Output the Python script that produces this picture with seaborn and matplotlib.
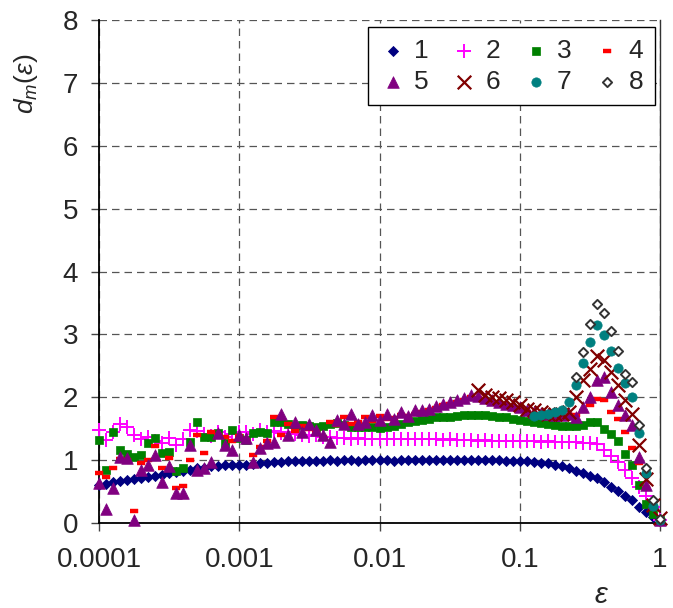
import numpy as np
import pandas as pd
import matplotlib
matplotlib.use("Agg")
import matplotlib.pyplot as plt
import seaborn as sns
from matplotlib.ticker import FixedLocator, FixedFormatter, NullLocator

# epsilon sampling grid (20 points per decade, 1e-4 .. 1)
eps = np.logspace(-4, 0, 81)

s1 = [0.60, 0.62, 0.65, 0.67, 0.68, 0.70, 0.71, 0.73, 0.75, 0.77,
      0.79, 0.81, 0.83, 0.85, 0.87, 0.88, 0.90, 0.91, 0.92, 0.92,
      0.93, 0.93, 0.94, 0.95, 0.96, 0.97, 0.97, 0.98, 0.98, 0.99,
      0.98, 0.99, 0.99, 1.00, 0.99, 1.00, 1.00, 0.99, 1.00, 1.00,
      1.00, 1.00, 0.99, 1.00, 1.00, 1.00, 1.00, 1.00, 1.00, 1.00,
      1.00, 1.00, 1.00, 1.00, 1.00, 1.00, 1.00, 1.00, 0.99,
      0.99, 0.985, 0.98, 0.97, 0.96, 0.95, 0.93, 0.90, 0.87, 0.83, 0.79,
      0.75, 0.71, 0.65, 0.58, 0.51, 0.43, 0.36, 0.25, 0.17, 0.10, 0.04]

s2 = [1.48, 1.32, 1.45, 1.58, 1.53, 1.40, 1.33, 1.36, 1.31, 1.27,
      1.35, 1.24, 1.33, 1.48, 1.46, 1.42, 1.39, 1.44, 1.37, 1.42,
      1.45, 1.45, 1.42, 1.48, 1.44, 1.46, 1.43, 1.45, 1.42, 1.40,
      1.38, 1.40, 1.36, 1.36, 1.35, 1.35, 1.34, 1.35, 1.34, 1.34,
      1.34, 1.34, 1.34, 1.33, 1.33, 1.34, 1.33, 1.33, 1.33, 1.32,
      1.33, 1.32, 1.32, 1.32, 1.31, 1.32, 1.31, 1.31, 1.31, 1.30,
      1.30, 1.30, 1.30, 1.29, 1.30, 1.29, 1.29, 1.29, 1.29, 1.28,
      1.28, 1.25, 1.16, 1.07, 0.97, 0.84, 0.72, 0.57, 0.43, 0.25, 0.05]

s3 = [1.32, 0.84, 1.45, 1.16, 1.10, 1.05, 1.08, 1.27, 1.35, 1.11,
      1.13, 0.82, 0.87, 1.29, 1.61, 1.37, 1.37, 1.43, 1.27, 1.48,
      1.35, 1.32, 1.43, 1.45, 1.43, 1.61, 1.60, 1.58, 1.53, 1.56,
      1.55, 1.53, 1.55, 1.57, 1.59, 1.56, 1.53, 1.53, 1.53, 1.52,
      1.51, 1.52, 1.55, 1.58, 1.60, 1.62, 1.64, 1.66, 1.68, 1.69,
      1.69, 1.70, 1.71, 1.71, 1.71, 1.71, 1.70, 1.69, 1.68, 1.66,
      1.64, 1.62, 1.60, 1.59, 1.57, 1.56, 1.55, 1.54, 1.54, 1.56,
      1.60, 1.60, 1.50, 1.42, 1.30, 1.10, 0.92, 0.60, 0.30, 0.15, 0.05]

s4 = [0.79, 0.73, 0.87, 1.02, 1.00, 0.19, 0.95, 1.00, 1.22, 0.87,
      1.04, 0.55, 0.59, 1.00, 1.40, 1.12, 1.45, 1.40, 1.37, 1.30,
      1.38, 1.32, 1.08, 1.21, 1.30, 1.69, 1.40, 1.58, 1.46, 1.55,
      1.49, 1.44, 1.36, 1.60, 1.56, 1.68, 1.57, 1.60, 1.68, 1.63,
      1.70, 1.66, 1.67, 1.71, 1.70, 1.74, 1.77, 1.79, 1.83, 1.87,
      1.90, 1.93, 1.96, 2.00, 1.99, 1.96, 1.92, 1.90, 1.87, 1.84,
      1.81, 1.77, 1.74, 1.72, 1.70, 1.69, 1.69, 1.71, 1.72, 1.78,
      1.88, 1.97, 1.96, 1.77, 1.66, 1.45, 1.20, 0.95, 0.55, 0.25, 0.05]

s5 = [0.63, 0.23, 0.55, 1.05, 1.03, 0.05, 0.84, 0.92, 1.08, 0.66,
      0.90, 0.47, 0.47, 1.24, 0.84, 0.87, 0.97, 1.43, 1.24, 1.16,
      1.40, 1.35, 0.97, 1.19, 1.27, 1.29, 1.74, 1.40, 1.61, 1.45,
      1.58, 1.48, 1.40, 1.29, 1.64, 1.58, 1.74, 1.58, 1.61, 1.72,
      1.64, 1.74, 1.66, 1.77, 1.70, 1.79, 1.80, 1.82, 1.86, 1.90,
      1.93, 1.96, 1.99, 2.03, 2.02, 1.99, 1.95, 1.93, 1.90, 1.87,
      1.84, 1.80, 1.77, 1.75, 1.73, 1.72, 1.72, 1.74, 1.69, 1.85,
      2.00, 2.27, 2.32, 2.08, 1.88, 1.72, 1.56, 1.05, 0.60, 0.30, 0.05]

s6_start = 54
s6 = [2.11, 2.04, 2.01, 1.99, 1.96, 1.92, 1.87, 1.82, 1.79, 1.76,
      1.74, 1.74, 1.74, 1.77, 2.01, 2.27, 2.45, 2.65, 2.60, 2.40,
      2.20, 1.95, 1.74, 1.24, 0.70, 0.28, 0.08]

s7_start = 62
s7 = [1.70, 1.72, 1.73, 1.76, 1.80, 1.93, 2.20, 2.54, 2.88, 3.15,
      2.99, 2.73, 2.46, 2.22, 2.00, 1.43, 0.79, 0.27, 0.05]

s8_start = 68
s8 = [2.33, 2.72, 3.17, 3.49, 3.34, 3.06, 2.74, 2.37, 2.24, 1.56,
      0.88, 0.37, 0.06]

series_names = ["1", "2", "3", "4", "5", "6", "7", "8"]
x_ticks = [0.0001, 0.001, 0.01, 0.1, 1]
x_tick_labels = ["0.0001", "0.001", "0.01", "0.1", "1"]
y_ticks = [0, 1, 2, 3, 4, 5, 6, 7, 8]

frames = []
for name, start, vals in zip(series_names,
                             [0, 0, 0, 0, 0, s6_start, s7_start, s8_start],
                             [s1, s2, s3, s4, s5, s6, s7, s8]):
    frames.append(pd.DataFrame({"eps": eps[start:start + len(vals)],
                                "dm": vals, "series": name}))
df = pd.concat(frames, ignore_index=True)

sns.set_style("ticks")
plt.rcParams["font.family"] = ["Liberation Sans", "DejaVu Sans"]
plt.rcParams["mathtext.fontset"] = "custom"
plt.rcParams["mathtext.it"] = "Liberation Sans:italic"
plt.rcParams["mathtext.rm"] = "Liberation Sans"

fig = plt.figure(figsize=(6.73, 6.08), dpi=100)
ax = fig.add_axes([99 / 673, 1 - 523 / 608, 561 / 673, 503 / 608])

dash = [(-1, -0.5), (1, -0.5), (1, 0.5), (-1, 0.5)]
styles = {
    "1": dict(marker="D", s=26, color="#000080", edgecolor="#000080", linewidth=0.6),
    "2": dict(marker="+", s=95, color="#FF00FF", linewidth=1.4),
    "3": dict(marker="s", s=36, color="#008000", edgecolor="#008000", linewidth=0.5),
    "4": dict(marker=dash, s=34, color="#FF0000", edgecolor="#FF0000", linewidth=0.3),
    "5": dict(marker="^", s=70, color="#800080", edgecolor="#800080", linewidth=0.5),
    "6": dict(marker="x", s=95, color="#800000", linewidth=1.6),
    "7": dict(marker="o", s=45, color="#008080", edgecolor="#008080", linewidth=0.5),
    "8": dict(marker="D", s=22, color="white", edgecolor="#333333", linewidth=1.4),
}

for i, name in enumerate(series_names):
    sub = df[df["series"] == name]
    sns.scatterplot(data=sub, x="eps", y="dm", ax=ax, label=name,
                    zorder=3 + i, clip_on=False, **styles[name])

ax.set_xscale("log")
ax.set_xlim(1e-4, 1)
ax.set_ylim(0, 8)
ax.xaxis.set_major_locator(FixedLocator(x_ticks))
ax.xaxis.set_major_formatter(FixedFormatter(x_tick_labels))
ax.xaxis.set_minor_locator(NullLocator())
ax.set_yticks(y_ticks)
ax.set_yticklabels([str(v) for v in y_ticks])
ax.tick_params(axis="both", labelsize=20, length=6, width=1, color="#444444",
               direction="out")
ax.tick_params(axis="y", pad=9)
ax.tick_params(axis="x", pad=11)

ax.grid(True, which="major", color="#555555", linestyle=(0, (6, 4)), linewidth=0.9)
ax.set_axisbelow(True)
for side in ["left", "bottom"]:
    ax.spines[side].set_color("black")
    ax.spines[side].set_linewidth(1.3)
ax.spines["top"].set_visible(False)
ax.spines["right"].set_visible(True)
ax.spines["right"].set_color("#333333")
ax.spines["right"].set_linewidth(1.0)

ax.set_xlabel("")
ax.set_ylabel("")
fig.text(26 / 673, 1 - 84 / 608, r"$d_m(\varepsilon)$", rotation=90,
         fontsize=19, ha="center", va="center")
fig.text(602 / 673, 1 - 595 / 608, r"$\varepsilon$", fontsize=21,
         ha="center", va="center")

handles, labels = ax.get_legend_handles_labels()
order = [0, 4, 1, 5, 2, 6, 3, 7]
leg = ax.legend([handles[k] for k in order], [labels[k] for k in order],
                ncol=4, loc="upper right", bbox_to_anchor=(0.991, 0.986),
                borderaxespad=0, fontsize=19, frameon=True, fancybox=False,
                edgecolor="black", framealpha=1, handlelength=1.0,
                handletextpad=0.3, columnspacing=0.85, labelspacing=0.25,
                borderpad=0.45)
leg.get_frame().set_linewidth(1.0)
leg.set_zorder(20)

fig.savefig("out.png", dpi=100, facecolor="white")
